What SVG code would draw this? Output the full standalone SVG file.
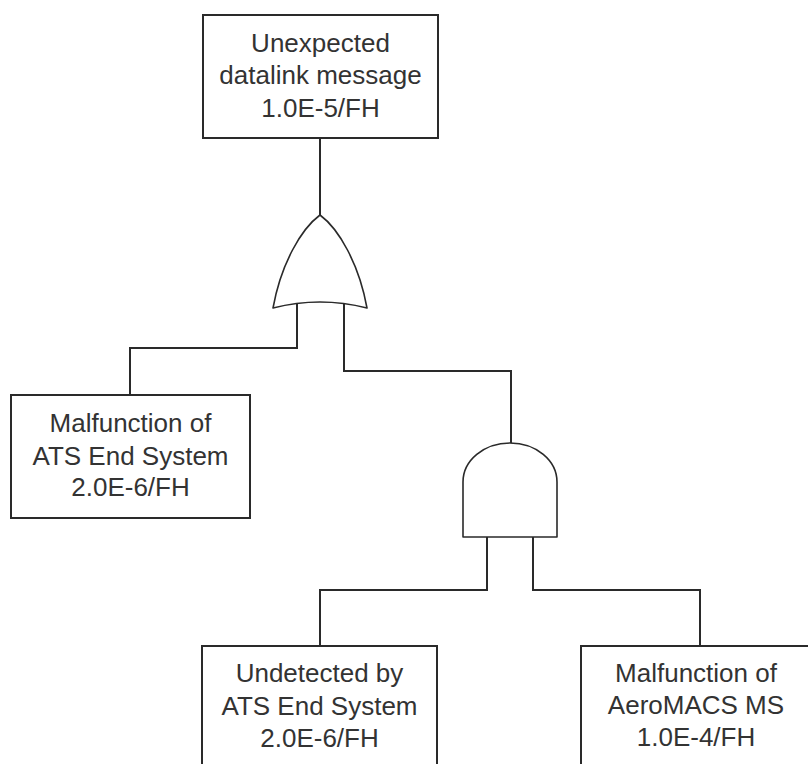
<svg xmlns="http://www.w3.org/2000/svg" width="808" height="764" viewBox="0 0 808 764">
  <style>
    .box { fill: #ffffff; stroke: #2a2a2a; stroke-width: 2; }
    .gate { fill: #ffffff; stroke: #2a2a2a; stroke-width: 1.6; stroke-linejoin: round; }
    .wire { fill: none; stroke: #2a2a2a; stroke-width: 2; }
    .label { font-family: "Liberation Sans", Arial, sans-serif; font-size: 26px; fill: #333333; text-anchor: middle; }
  </style>
  <rect width="808" height="764" fill="#ffffff"/>

  <!-- connectors -->
  <g id="connectors">
    <path class="wire" d="M320,138 V216"/>
    <path class="wire" d="M297,303 V348 H130 V395"/>
    <path class="wire" d="M344,303 V371 H511 V443"/>
    <path class="wire" d="M487,537 V590 H320 V646"/>
    <path class="wire" d="M533,537 V590 H700 V646"/>
  </g>

  <!-- top event -->
  <g id="top-event">
    <rect class="box" x="203" y="15" width="235" height="123"/>
    <text class="label" x="320.5" y="51.5">Unexpected</text>
    <text class="label" x="320.5" y="84">datalink message</text>
    <text class="label" x="320.5" y="116.5">1.0E-5/FH</text>
  </g>

  <!-- OR gate -->
  <g id="or-gate">
    <path class="gate" d="M320,215 C301,229 281,264 273,308 Q320,296 367,308 C359,264 339,229 320,215 Z"/>
  </g>

  <!-- basic event: ATS end system malfunction -->
  <g id="ats-malfunction">
    <rect class="box" x="11" y="395" width="239" height="123"/>
    <text class="label" x="130.5" y="432">Malfunction of</text>
    <text class="label" x="130.5" y="464.5">ATS End System</text>
    <text class="label" x="130.5" y="496">2.0E-6/FH</text>
  </g>

  <!-- AND gate -->
  <g id="and-gate">
    <path class="gate" d="M463,537 V482 A47,39 0 0 1 557,482 V537 Z"/>
  </g>

  <!-- basic event: undetected by ATS end system -->
  <g id="ats-undetected">
    <rect class="box" x="202" y="646" width="235" height="130"/>
    <text class="label" x="319.5" y="682">Undetected by</text>
    <text class="label" x="319.5" y="714.5">ATS End System</text>
    <text class="label" x="319.5" y="747">2.0E-6/FH</text>
  </g>

  <!-- basic event: AeroMACS MS malfunction -->
  <g id="aeromacs-malfunction">
    <rect class="box" x="581" y="646" width="232" height="130"/>
    <text class="label" x="696" y="682">Malfunction of</text>
    <text class="label" x="696" y="714">AeroMACS MS</text>
    <text class="label" x="696" y="746">1.0E-4/FH</text>
  </g>
</svg>
